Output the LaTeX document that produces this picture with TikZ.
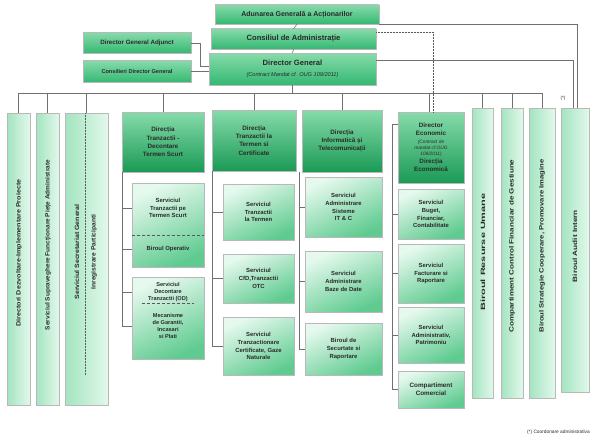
\documentclass[tikz,border=0pt]{standalone}
\usepackage{fontspec}
\setmainfont{Liberation Sans}
\usetikzlibrary{shadows}
\definecolor{gtop}{HTML}{86DBAA}
\definecolor{gmid}{HTML}{34B872}
\definecolor{gdark}{HTML}{1A9A55}
\definecolor{slt}{HTML}{E6F9EE}
\definecolor{slb}{HTML}{5FCB90}
\definecolor{colL}{HTML}{A3E4C0}
\definecolor{colR}{HTML}{E2F8EB}
\definecolor{txt}{HTML}{2A2A2A}
\definecolor{lne}{HTML}{707070}
\newcommand{\vtext}[2]{\resizebox{#1}{\height}{#2}}
\begin{document}
\begin{tikzpicture}[x=1pt,y=-1pt,
  every node/.style={inner sep=1pt, align=center, text=txt},
  base/.style={draw=gray!55, line width=0.3pt, drop shadow={opacity=0.4, shadow xshift=0.9pt, shadow yshift=-0.9pt}},
  topbox/.style={base, top color=gtop, bottom color=gmid},
  deptbox/.style={base, top color=gtop, bottom color=gdark, font=\fontsize{6.3}{8.4}\selectfont\bfseries},
  svcbox/.style={base, top color=slt, bottom color=slb, shading angle=25, font=\fontsize{5.9}{7.8}\selectfont\bfseries},
  colbox/.style={base, left color=colL, right color=colR},
  coltext/.style={rotate=90, font=\fontsize{6.2}{7}\selectfont\bfseries},
  conn/.style={draw=lne, line width=0.6pt},
  sep/.style={draw=gray!70!black, line width=0.5pt, densely dashed},
  dots/.style={draw=gray!70!black, line width=0.5pt, densely dotted}
]
\fill[white] (0,0) rectangle (593,444);
\useasboundingbox (0,0) rectangle (593,444);

% ---------- top boxes ----------
\node[topbox, minimum width=164pt, minimum height=19pt, font=\fontsize{7}{8}\selectfont\bfseries] (adun) at (297,14.5) {Adunarea Generală a Acționarilor};
\node[topbox, minimum width=165pt, minimum height=20pt, font=\fontsize{7.6}{9}\selectfont\bfseries] (cons) at (293.5,39) {Consiliul de Administrație};
\node[topbox, minimum width=167pt, minimum height=32pt] (dg) at (292.5,69) {{\fontsize{7.6}{9}\selectfont\bfseries Director General}\\[-1pt]{\fontsize{5.6}{7}\selectfont\itshape (Contract Mandat cf. OUG 109/2011)}};
\node[topbox, minimum width=108pt, minimum height=21pt, font=\fontsize{6.2}{7}\selectfont\bfseries] (dga) at (137,43) {Director General Adjunct};
\node[topbox, minimum width=108pt, minimum height=22pt, font=\fontsize{5.6}{7}\selectfont\bfseries] (cdg) at (137,71.5) {Consilieri Director General};

% ---------- left columns ----------
\node[colbox, minimum width=23pt, minimum height=292pt] (c1) at (18.5,259) {};
\node[colbox, minimum width=23pt, minimum height=292pt] (c2) at (47.5,259) {};
\node[colbox, minimum width=43pt, minimum height=292pt] (c3) at (86.5,259) {};
\node[coltext] (c1t) at (19,253) {\vtext{147pt}{Directori Dezvoltare-Implementare Proiecte}};
\node[coltext] (c2t) at (48,245) {\vtext{170pt}{Serviciul Supraveghere Funcționare Piețe Administrate}};
\node[coltext] (c3t) at (77,252) {\vtext{95pt}{Serviciul Secretariat General}};
\node[coltext] (c3u) at (94,252) {\vtext{75pt}{Inregistrare Participanti}};
\draw[dots] (85,113) -- (85,375);

% ---------- right columns ----------
\node[colbox, minimum width=21pt, minimum height=290pt] (r1) at (482.5,253) {};
\node[colbox, minimum width=22pt, minimum height=290pt] (r2) at (512,253) {};
\node[colbox, minimum width=26pt, minimum height=290pt] (r3) at (542,253) {};
\node[colbox, minimum width=28pt, minimum height=284pt] (r4) at (575,250) {};
\node[coltext] (r1t) at (483,252) {\vtext{117pt}{Biroul Resurse Umane}};
\node[coltext] (r2t) at (512,246) {\vtext{173pt}{Compartiment Control Financiar de Gestiune}};
\node[coltext] (r3t) at (542,246) {\vtext{173pt}{Biroul Strategie Cooperare, Promovare Imagine}};
\node[coltext] (r4t) at (575,246) {\vtext{72pt}{Biroul Audit Intern}};

% ---------- department A ----------
\node[deptbox, minimum width=82pt, minimum height=60pt] (dA) at (163,142) {Direcția\\Tranzactii -\\Decontare\\Termen Scurt};
\node[svcbox, minimum width=72pt, minimum height=84pt] (sA1) at (168,225) {};
\node[svcbox, minimum width=72pt, minimum height=82pt] (sA2) at (168,318) {};
\node[font=\fontsize{5.9}{7.8}\selectfont\bfseries] (tA1) at (168,208) {Serviciul\\Tranzactii pe\\Termen Scurt};
\node[font=\fontsize{5.9}{7.8}\selectfont\bfseries] (tA2) at (168,249) {Biroul Operativ};
\node[font=\fontsize{5.6}{7.2}\selectfont\bfseries] (tA3) at (168,292) {Serviciul\\Decontare\\Tranzactii (OD)};
\node[font=\fontsize{5.6}{7.2}\selectfont\bfseries] (tA4) at (168,326) {Mecanisme\\de Garantii,\\Incasari\\si Plati};
\coordinate (sepA1) at (168,235);
\coordinate (sepA2) at (168,303);
\draw[sep] (sepA1 -| sA1.west) -- (sepA1 -| sA1.east);
\draw[sep] ([xshift=10pt]sepA2 -| sA2.west) -- ([xshift=-10pt]sepA2 -| sA2.east);

% ---------- department B ----------
\node[deptbox, minimum width=84pt, minimum height=61pt] (dB) at (254,140.5) {Direcția\\Tranzactii la\\Termen si\\Certificate};
\node[svcbox, minimum width=71pt, minimum height=56pt] (sB1) at (258.5,212) {Serviciul\\Tranzactii\\la Termen};
\node[svcbox, minimum width=71pt, minimum height=49pt] (sB2) at (258.5,278.5) {Serviciul\\CfD,Tranzactii\\OTC};
\node[svcbox, minimum width=71pt, minimum height=58pt] (sB3) at (258.5,346) {Serviciul\\Tranzactionare\\Certificate, Gaze\\Naturale};

% ---------- department C ----------
\node[deptbox, minimum width=80pt, minimum height=62pt] (dC) at (342,141) {Direcția\\Informatică și\\Telecomunicații};
\node[svcbox, minimum width=77pt, minimum height=60pt] (sC1) at (343.5,207) {Serviciul\\Administrare\\Sisteme\\IT \& C};
\node[svcbox, minimum width=77pt, minimum height=61pt] (sC2) at (343.5,281.5) {Serviciul\\Administrare\\Baze de Date};
\node[svcbox, minimum width=77pt, minimum height=52pt] (sC3) at (343.5,349) {Biroul de\\Securtate si\\Raportare};

% ---------- department D ----------
\node[deptbox, minimum width=66pt, minimum height=71pt] (dD) at (431,147.5) {Director\\Economic\\[-1pt]{\fontsize{4.8}{5.6}\selectfont\mdseries\itshape (Contract de}\\[-2.5pt]{\fontsize{4.8}{5.6}\selectfont\mdseries\itshape mandat cf.OUG}\\[-2.5pt]{\fontsize{4.8}{5.6}\selectfont\mdseries\itshape 109/2011)}\\Direcția\\Economică};
\node[svcbox, minimum width=66pt, minimum height=50pt] (sD1) at (431,214) {Serviciul\\Buget,\\Financiar,\\Contabilitate};
\node[svcbox, minimum width=66pt, minimum height=59pt] (sD2) at (431,273.5) {Serviciul\\Facturare si\\Raportare};
\node[svcbox, minimum width=66pt, minimum height=56pt] (sD3) at (431,335) {Serviciul\\Administrativ,\\Patrimoniu};
\node[svcbox, minimum width=66pt, minimum height=37pt, font=\fontsize{6.3}{8}\selectfont\bfseries] (sD4) at (431,389.5) {Compartiment\\Comercial};

% ---------- connectors: top ----------
\draw[conn] (adun.south) -- (cons.north);
\draw[conn] (cons.south) -- (dg.north);
\draw[conn] (dga.east) -- ++(9,0) |- ([yshift=3pt]dg.west);
\draw[conn] (cdg.east) -- (cdg.east -| dg.west);
\draw[conn] (adun.south east) -| ([xshift=2pt]r4.north);
\draw[conn] ([yshift=9pt]dg.east) -| ([xshift=-2pt]r4.north);
\draw[dots] ([yshift=7pt]cons.east) -| ([xshift=2pt]dD.north);
\node[font=\fontsize{4.6}{5}\selectfont] (star) at (563,98) {(*)};
\node[font=\fontsize{4.8}{5}\selectfont, anchor=east] (foot) at (591,432) {(*) Coordonare administrativa};

% ---------- main bus ----------
\coordinate (busL) at (18.5,93);
\coordinate (busR) at (542,93);
\draw[conn] (c1.north |- busL) -- (busR);
\draw[conn] (dg.south) -- (dg.south |- busL);
\foreach \n in {c1,c2,c3,dA,dB,dC,r1,r2,r3}{
  \draw[conn] (\n.north |- busL) -- (\n.north);
}
\draw[conn] ([xshift=-2pt]dD.north |- busL) -- ([xshift=-2pt]dD.north);

% ---------- department sub-connectors ----------
\coordinate (aL) at ([xshift=0.5pt]dA.south west);
\draw[conn] (aL) -- (aL |- tA4);
\foreach \t/\b in {tA1/sA1,tA2/sA1,tA3/sA2,tA4/sA2}{
  \draw[conn] (aL |- \t) -- (\b.west |- \t);
}
\coordinate (bL) at ([xshift=0.5pt]dB.south west);
\draw[conn] (bL) -- (bL |- sB3.west) -- (sB3.west);
\foreach \b in {sB1,sB2}{ \draw[conn] (bL |- \b.west) -- (\b.west); }
\coordinate (cL) at ([xshift=-3pt]dC.south west);
\draw[conn] (cL) -- (cL |- sC3.west) -- (sC3.west);
\foreach \b in {sC1,sC2}{ \draw[conn] (cL |- \b.west) -- (\b.west); }
\coordinate (dDb) at ([yshift=23.5pt]dD.west);
\coordinate (dL) at ([xshift=-6pt]dDb);
\draw[conn] (dDb) -- (dL) |- (sD4.west);
\foreach \b in {sD1,sD2,sD3}{ \draw[conn] (dL |- \b.west) -- (\b.west); }
\end{tikzpicture}
\end{document}
